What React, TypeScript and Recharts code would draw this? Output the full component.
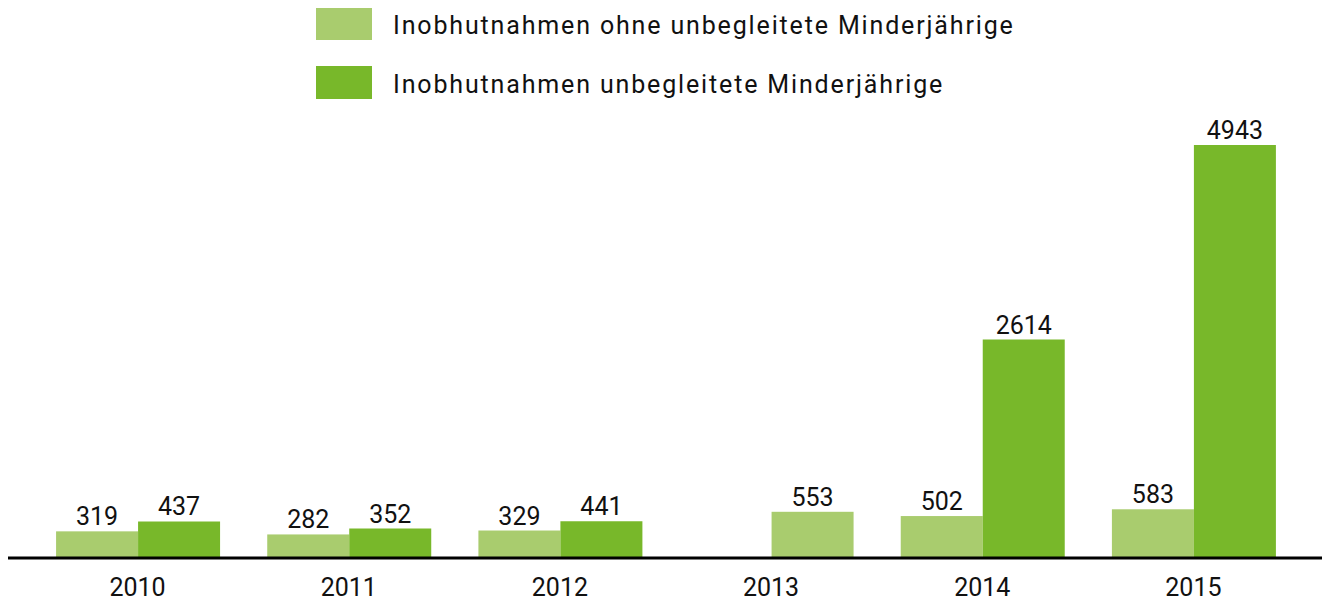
import React from "react";
import { BarChart, Bar, XAxis, YAxis, Legend, LabelList } from "recharts";

const years = ["2010", "2011", "2012", "2013", "2014", "2015"];
const ohneUM = [319, 282, 329, 553, 502, 583];
const mitUM: (number | null)[] = [437, 352, 441, null, 2614, 4943];

const seriesNames = [
  "Inobhutnahmen ohne unbegleitete Minderjährige",
  "Inobhutnahmen unbegleitete Minderjährige",
];

const LIGHT = "#a9cc6e";
const DARK = "#78b82a";
const FONT = "Roboto, 'Liberation Sans', sans-serif";

const data = years.map((year, i) => ({
  year,
  ohne: ohneUM[i],
  mit: mitUM[i],
}));

// when the second series has no value the light bar takes its slot
const shiftFor = (index: number, width: number) =>
  data[index] && data[index].mit == null ? width : 0;

function LightBar(props: any) {
  const { x, y, width, height, index, fill } = props;
  return (
    <rect
      x={x + shiftFor(index, width)}
      y={y}
      width={width}
      height={height}
      fill={fill}
    />
  );
}

function LightLabel(props: any) {
  const { x, y, width, value, index } = props;
  return (
    <text
      x={x + width / 2 + shiftFor(index, width)}
      y={y - 6}
      textAnchor="middle"
      fontSize={25}
      fontFamily={FONT}
      fill="#111"
    >
      {value}
    </text>
  );
}

function LegendBox() {
  const colors = [LIGHT, DARK];
  return (
    <div style={{ position: "relative", width: 1000, height: 100, fontFamily: FONT }}>
      {seriesNames.map((name, i) => (
        <div
          key={name}
          style={{
            position: "absolute",
            left: 308,
            top: i * 59 - 1,
            display: "flex",
            alignItems: "center",
            height: 33,
          }}
        >
          <div style={{ width: 56, height: 33, background: colors[i] }} />
          <span
            style={{
              marginLeft: 21,
              fontSize: 25,
              lineHeight: "33px",
              paddingTop: 3,
              letterSpacing: "1.85px",
              color: "#111",
              whiteSpace: "nowrap",
            }}
          >
            {name}
          </span>
        </div>
      ))}
    </div>
  );
}

export default function App() {
  return (
    <div style={{ width: 1322, height: 594 }}>
      <BarChart
        width={1322}
        height={594}
        data={data}
        margin={{ top: 137, right: 7, left: 0, bottom: 0 }}
        barCategoryGap="11.4%"
        barGap={0}
      >
        <YAxis hide domain={[0, "dataMax"]} />
        <Legend
          layout="horizontal"
          verticalAlign="middle"
          align="center"
          wrapperStyle={{ top: 0, left: 0 }}
          content={() => <LegendBox />}
        />
        <Bar
          dataKey="ohne"
          name={seriesNames[0]}
          fill={LIGHT}
          shape={<LightBar />}
          isAnimationActive={false}
        >
          <LabelList dataKey="ohne" content={<LightLabel />} />
        </Bar>
        <Bar dataKey="mit" name={seriesNames[1]} fill={DARK} isAnimationActive={false}>
          <LabelList
            dataKey="mit"
            position="top"
            offset={6}
            fontSize={25}
            fontFamily={FONT}
            fill="#111"
          />
        </Bar>
        <XAxis
          dataKey="year"
          height={44}
          padding={{ left: 24, right: 24 }}
          axisLine={{ stroke: "#000", strokeWidth: 3 }}
          tickLine={false}
          tickSize={0}
          tickMargin={20}
          tick={{ fontSize: 25, fontFamily: FONT, fill: "#111" }}
        />
      </BarChart>
    </div>
  );
}
